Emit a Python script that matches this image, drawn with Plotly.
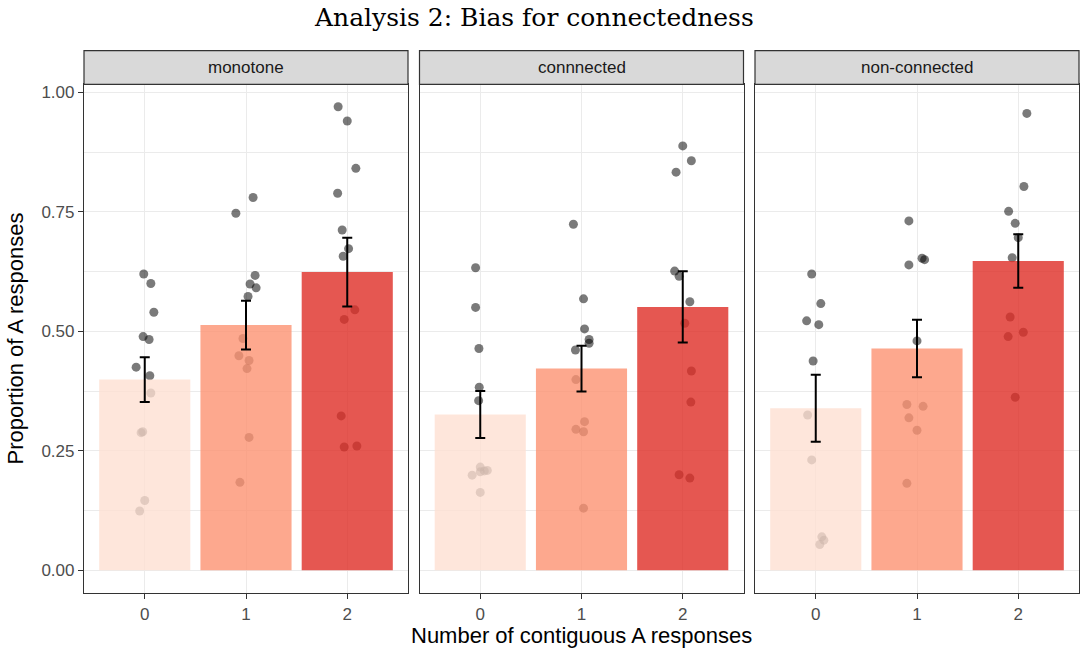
import plotly.graph_objects as go

# ---------------- data ----------------
panels = ["monotone", "connnected", "non-connected"]
categories = [0, 1, 2]

# proportion of A responses per participant (points), and their horizontal jitter
monotone_0 = [0.620, 0.600, 0.540, 0.489, 0.483, 0.425, 0.407, 0.371, 0.290, 0.288, 0.146, 0.124]
monotone_0_jit = [-0.01, 0.06, 0.09, -0.016, 0.043, -0.085, 0.05, 0.06, -0.02, -0.036, 0.0, -0.05]
monotone_1 = [0.780, 0.747, 0.617, 0.599, 0.591, 0.573, 0.485, 0.449, 0.439, 0.422, 0.278, 0.184]
monotone_1_jit = [0.07, -0.10, 0.09, 0.04, 0.10, 0.02, -0.03, -0.07, 0.03, 0.01, 0.03, -0.06]
monotone_2 = [0.970, 0.940, 0.841, 0.789, 0.712, 0.673, 0.657, 0.545, 0.525, 0.323, 0.258, 0.260]
monotone_2_jit = [-0.09, 0.0, 0.085, -0.095, -0.05, 0.013, -0.04, 0.075, -0.03, -0.06, -0.03, 0.095]

connected_0 = [0.633, 0.550, 0.464, 0.383, 0.355, 0.216, 0.199, 0.206, 0.208, 0.209, 0.163]
connected_0_jit = [-0.046, -0.046, -0.013, -0.01, -0.016, 0.0, -0.08, 0.0, 0.04, 0.07, 0.0]
connected_1 = [0.724, 0.568, 0.505, 0.483, 0.475, 0.461, 0.399, 0.311, 0.295, 0.290, 0.130]
connected_1_jit = [-0.08, 0.02, 0.03, 0.075, 0.075, -0.06, -0.055, 0.03, -0.055, 0.02, 0.02]
connected_2 = [0.888, 0.857, 0.833, 0.626, 0.615, 0.562, 0.517, 0.417, 0.352, 0.200, 0.193]
connected_2_jit = [0.0, 0.085, -0.066, -0.08, -0.036, 0.07, 0.02, 0.085, 0.08, -0.036, 0.07]

nonconnected_0 = [0.620, 0.558, 0.522, 0.514, 0.438, 0.325, 0.231, 0.070, 0.063, 0.054]
nonconnected_0_jit = [-0.04, 0.05, -0.09, 0.03, -0.026, -0.08, -0.04, 0.06, 0.08, 0.04]
nonconnected_1 = [0.731, 0.639, 0.653, 0.650, 0.480, 0.347, 0.343, 0.319, 0.293, 0.182]
nonconnected_1_jit = [-0.08, -0.08, 0.05, 0.075, 0.0, -0.10, 0.06, -0.08, 0.0, -0.10]
nonconnected_2 = [0.956, 0.803, 0.751, 0.726, 0.696, 0.654, 0.530, 0.498, 0.489, 0.362]
nonconnected_2_jit = [0.085, 0.056, -0.095, -0.03, 0.0, -0.06, -0.08, 0.05, -0.10, -0.03]

# bar means and standard errors
monotone_mean = [0.399, 0.513, 0.624]
monotone_se = [0.047, 0.051, 0.072]
connected_mean = [0.326, 0.422, 0.551]
connected_se = [0.049, 0.048, 0.0745]
nonconnected_mean = [0.339, 0.464, 0.647]
nonconnected_se = [0.070, 0.060, 0.056]

bar_colors = ["rgba(254,224,210,0.8)", "rgba(252,146,114,0.8)", "rgba(222,45,38,0.8)"]

points = [
    [(monotone_0, monotone_0_jit), (monotone_1, monotone_1_jit), (monotone_2, monotone_2_jit)],
    [(connected_0, connected_0_jit), (connected_1, connected_1_jit), (connected_2, connected_2_jit)],
    [(nonconnected_0, nonconnected_0_jit), (nonconnected_1, nonconnected_1_jit), (nonconnected_2, nonconnected_2_jit)],
]
means = [monotone_mean, connected_mean, nonconnected_mean]
ses = [monotone_se, connected_se, nonconnected_se]

# ---------------- layout geometry ----------------
W_FIG, H_FIG = 1081, 650
L, R, T, B = 84, 2, 84, 57
PW = W_FIG - L - R
PH = H_FIG - T - B

def pxx(px):
    return (px - L) / PW

def pxy(py):
    return 1 - (py - T) / PH

panel_px = [(84, 408), (419.5, 743.5), (755, 1079)]
domains = [[pxx(a), pxx(b)] for a, b in panel_px]
XR = [-0.6, 2.6]
YR = [-0.0475, 1.0175]

SANS = "Liberation Sans, Arial, sans-serif"
GRID = "#EBEBEB"
FRAME = "#333333"

fig = go.Figure()
layout = dict(
    width=W_FIG, height=H_FIG,
    margin=dict(l=L, r=R, t=T, b=B),
    plot_bgcolor="white", paper_bgcolor="white",
    showlegend=False,
    bargap=0.1,
)

shapes = []
annotations = []

for i in range(3):
    n = i + 1
    xa = "x" if n == 1 else f"x{n}"
    ya = "y" if n == 1 else f"y{n}"
    ox = f"x{n + 3}"
    oy = f"y{n + 3}"
    # base axes (grid, frame, ticks) - points live here
    layout["xaxis" if n == 1 else f"xaxis{n}"] = dict(
        domain=domains[i], range=XR, anchor=ya,
        tickvals=categories, ticktext=[str(c) for c in categories],
        showgrid=True, gridcolor=GRID, gridwidth=1.3, zeroline=False,
        showline=True, linecolor=FRAME, linewidth=1.2, mirror=True,
        ticks="outside", ticklen=5, tickcolor=FRAME, tickwidth=1.2,
        tickfont=dict(family=SANS, size=17, color="#4D4D4D"),
        fixedrange=True,
    )
    layout["yaxis" if n == 1 else f"yaxis{n}"] = dict(
        domain=[0, 1], range=YR, anchor=xa,
        tickvals=[0, 0.25, 0.5, 0.75, 1.0],
        ticktext=["0.00", "0.25", "0.50", "0.75", "1.00"],
        showticklabels=(n == 1),
        ticks="outside" if n == 1 else "", ticklen=5, tickcolor=FRAME, tickwidth=1.2,
        tickfont=dict(family=SANS, size=17, color="#4D4D4D"),
        showgrid=True, gridcolor=GRID, gridwidth=1.3, zeroline=False,
        minor=dict(tickvals=[0.125, 0.375, 0.625, 0.875], showgrid=True,
                   gridcolor=GRID, gridwidth=0.8, ticks=""),
        showline=True, linecolor=FRAME, linewidth=1.2, mirror=True,
        fixedrange=True,
    )
    # overlay axes - bars and error bars drawn above points
    layout[f"xaxis{n + 3}"] = dict(
        range=XR, overlaying=xa, anchor=oy, visible=False, fixedrange=True,
    )
    layout[f"yaxis{n + 3}"] = dict(
        range=YR, overlaying=ya, anchor=ox, visible=False, fixedrange=True,
    )

    # points
    for c, (vals, jit) in zip(categories, points[i]):
        fig.add_trace(go.Scatter(
            x=[c + j for j in jit], y=vals, mode="markers",
            marker=dict(size=9, color="rgba(0,0,0,0.52)", line=dict(width=0)),
            xaxis=xa, yaxis=ya, hoverinfo="y",
        ))
    # bars
    fig.add_trace(go.Bar(
        x=categories, y=means[i], width=0.9,
        marker=dict(color=bar_colors, line=dict(width=0)),
        xaxis=ox, yaxis=oy,
    ))
    # error bars
    fig.add_trace(go.Scatter(
        x=categories, y=means[i], mode="markers",
        marker=dict(size=1, color="rgba(0,0,0,0)"),
        error_y=dict(type="data", array=ses[i], visible=True,
                     color="black", thickness=2, width=5),
        xaxis=ox, yaxis=oy,
    ))

    # strip
    x0, x1 = domains[i]
    shapes.append(dict(
        type="rect", xref="paper", yref="paper",
        x0=x0, x1=x1, y0=pxy(84.3), y1=pxy(50.7),
        fillcolor="#D9D9D9", line=dict(color=FRAME, width=1.2), layer="above",
    ))
    annotations.append(dict(
        text=panels[i], xref="paper", yref="paper",
        x=(x0 + x1) / 2, y=pxy(67.5), xanchor="center", yanchor="middle",
        showarrow=False, font=dict(family=SANS, size=17, color="#1A1A1A"),
    ))

# title and axis titles
annotations.append(dict(
    text="Analysis 2: Bias for connectedness", xref="paper", yref="paper",
    x=pxx(534), y=pxy(17), xanchor="center", yanchor="middle", showarrow=False,
    font=dict(family="DejaVu Serif, serif", size=25, color="black"),
))
annotations.append(dict(
    text="Number of contiguous A responses", xref="paper", yref="paper",
    x=pxx(581.5), y=pxy(635), xanchor="center", yanchor="middle", showarrow=False,
    font=dict(family=SANS, size=22, color="black"),
))
annotations.append(dict(
    text="Proportion of A responses", xref="paper", yref="paper",
    x=pxx(15), y=pxy(338.5), xanchor="center", yanchor="middle", showarrow=False,
    textangle=-90, font=dict(family=SANS, size=22, color="black"),
))

layout["shapes"] = shapes
layout["annotations"] = annotations
fig.update_layout(**layout)

fig.write_html(
    "out.html",
    config={"displayModeBar": False},
    post_script="document.body.style.margin='0';document.body.style.overflow='hidden';",
)
